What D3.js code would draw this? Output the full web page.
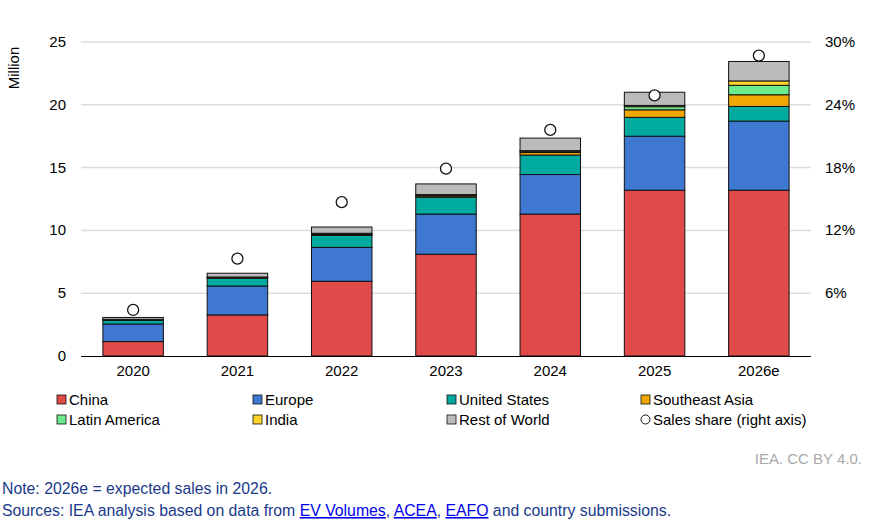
<!DOCTYPE html>
<html><head><meta charset="utf-8">
<script src="https://cdn.jsdelivr.net/npm/d3@7"></script>
<style>body{margin:0;background:#fff;font-family:"Liberation Sans",Arial,sans-serif}
a{color:#1a0dab}</style></head>
<body><div id="chart"></div>
<script>
var years = ['2020','2021','2022','2023','2024','2025','2026e']
var seriesNames = ['China','Europe','United States','Southeast Asia','Latin America','India','Rest of World']
var colors = ['#e04b4a','#3e78d0','#00aa9f','#f0a800','#6cea8c','#ffd42a','#bbbbbb']
var china = [1.15, 3.27, 5.95, 8.1, 11.3, 13.2, 13.2]
var europe = [1.4, 2.3, 2.7, 3.2, 3.15, 4.3, 5.5]
var us = [0.3, 0.63, 0.95, 1.35, 1.55, 1.5, 1.17]
var seAsia = [0.02, 0.03, 0.07, 0.1, 0.2, 0.6, 0.93]
var latAm = [0.03, 0.03, 0.05, 0.05, 0.1, 0.25, 0.75]
var india = [0.02, 0.03, 0.05, 0.05, 0.05, 0.1, 0.35]
var rest = [0.15, 0.3, 0.5, 0.85, 1.0, 1.05, 1.55]
var share = [4.4, 9.3, 14.7, 17.9, 21.6, 24.9, 28.7]
var leftTicks = [0, 5, 10, 15, 20, 25]
var rightTicks = [6, 12, 18, 24, 30]

var W = 891, H = 526
var svg = d3.select('#chart').append('svg').attr('width', W).attr('height', H)
var allSeries = [china, europe, us, seAsia, latAm, india, rest]
var rows = years.map(function(y, i){
  var r = {year: y}
  seriesNames.forEach(function(n, k){ r[n] = allSeries[k][i] })
  return r
})
var stack = d3.stack().keys(seriesNames)(rows)

var x = d3.scaleBand().domain(years).range([81, 811]).paddingInner(0.42).paddingOuter(0.21)
var y = d3.scaleLinear().domain([0, 25]).range([356, 42])
var y2 = d3.scaleLinear().domain([0, 30]).range([356, 42])

// gridlines
svg.selectAll('line.grid').data(leftTicks.slice(1)).enter().append('line')
  .attr('x1', 81).attr('x2', 811)
  .attr('y1', function(d){ return y(d) }).attr('y2', function(d){ return y(d) })
  .attr('stroke', '#dddddd').attr('stroke-width', 1.5)

svg.selectAll('text.lt').data(leftTicks).enter().append('text')
  .attr('x', 66).attr('y', function(d){ return y(d) + 5 })
  .attr('text-anchor', 'end').attr('font-size', 15).text(function(d){ return d })
svg.selectAll('text.rt').data(rightTicks).enter().append('text')
  .attr('x', 825).attr('y', function(d){ return y2(d) + 5 })
  .attr('font-size', 15).text(function(d){ return d + '%' })
svg.append('text').attr('transform', 'translate(19,68) rotate(-90)')
  .attr('text-anchor', 'middle').attr('font-size', 15).text('Million')

svg.selectAll('g.s').data(stack).enter().append('g')
  .attr('fill', function(d, i){ return colors[i] })
  .selectAll('rect').data(function(d){ return d }).enter().append('rect')
  .attr('x', function(d){ return x(d.data.year) })
  .attr('width', x.bandwidth())
  .attr('y', function(d){ return y(d[1]) })
  .attr('height', function(d){ return y(d[0]) - y(d[1]) })
  .attr('stroke', '#111').attr('stroke-width', 1)

svg.append('line').attr('x1', 81).attr('x2', 811).attr('y1', 356.5).attr('y2', 356.5).attr('stroke', '#000')

svg.selectAll('text.xl').data(years).enter().append('text')
  .attr('x', function(d){ return x(d) + x.bandwidth() / 2 }).attr('y', 376)
  .attr('text-anchor', 'middle').attr('font-size', 15).text(function(d){ return d })

svg.selectAll('circle.sh').data(share).enter().append('circle')
  .attr('cx', function(d, i){ return x(years[i]) + x.bandwidth() / 2 })
  .attr('cy', function(d){ return y2(d) })
  .attr('r', 5.5).attr('fill', '#fff').attr('stroke', '#111').attr('stroke-width', 1.3)

// legend
var legendItems = seriesNames.concat(['Sales share (right axis)'])
var colX = [57, 253, 447, 641]
legendItems.forEach(function(n, i){
  var lx = colX[i % 4], ly = 400 + Math.floor(i / 4) * 20
  if (i < 7) {
    svg.append('rect').attr('x', lx).attr('y', ly - 5).attr('width', 9).attr('height', 9)
      .attr('fill', colors[i]).attr('stroke', '#111').attr('stroke-width', 0.8)
  } else {
    svg.append('circle').attr('cx', lx + 4.5).attr('cy', ly - 0.5).attr('r', 4.5)
      .attr('fill', '#fff').attr('stroke', '#111')
  }
  svg.append('text').attr('x', lx + 12).attr('y', ly + 5).attr('font-size', 15).text(n)
})

svg.append('text').attr('x', 862).attr('y', 464).attr('text-anchor', 'end')
  .attr('font-size', 15).attr('fill', '#aaaaaa').text('IEA. CC BY 4.0.')
svg.append('text').attr('x', 2).attr('y', 494).attr('font-size', 15.8).attr('fill', '#1a3a8a')
  .text('Note: 2026e = expected sales in 2026.')
var src = svg.append('text').attr('x', 2).attr('y', 516).attr('font-size', 15.8).attr('fill', '#1a3a8a')
src.append('tspan').text('Sources: IEA analysis based on data from ')
;['EV Volumes', ', ', 'ACEA', ', ', 'EAFO', ' and country submissions.'].forEach(function(t, i){
  var ts = src.append('tspan').text(t)
  if (i % 2 === 0 && i < 5) ts.attr('fill', '#0000ee').attr('text-decoration', 'underline')
})
</script></body></html>
